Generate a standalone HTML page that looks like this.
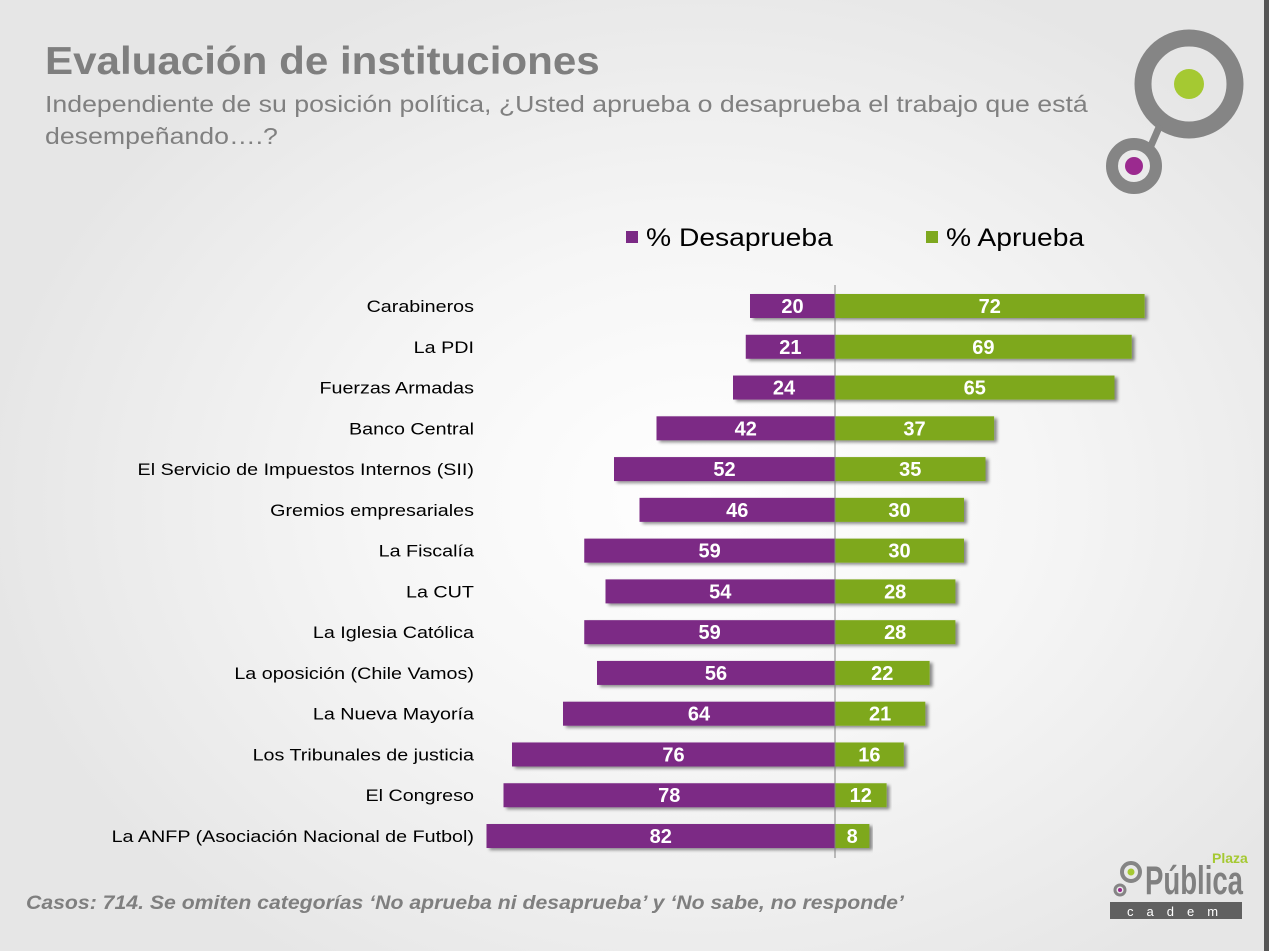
<!DOCTYPE html>
<html><head><meta charset="utf-8"><style>
body{margin:0;width:1269px;height:951px;overflow:hidden;font-family:"Liberation Sans",sans-serif;}
#bg{position:absolute;left:0;top:0;width:1269px;height:951px;background:radial-gradient(ellipse 720px 560px at 700px 500px,#ffffff 0%,#f6f6f6 45%,#e6e6e6 100%);}
.t{position:absolute;white-space:nowrap;transform-origin:0 0;}
</style></head><body>
<div id="bg"></div>
<div class="t" style="left:45px;top:40px;font-size:39px;font-weight:bold;color:#7f7f7f;transform:scaleX(1.08);">Evaluación de instituciones</div>
<div class="t" style="left:45px;top:88px;font-size:23px;color:#808080;line-height:32px;transform:scaleX(1.16);">Independiente de su posición política, ¿Usted aprueba o desaprueba el trabajo que está<br>desempeñando….?</div>
<div style="position:absolute;left:1264px;top:0;width:5px;height:951px;background:#555;"></div>
<svg style="position:absolute;left:0;top:0" width="1269" height="951">
<circle cx="1189" cy="84" r="46" fill="none" stroke="#858585" stroke-width="17"/>
<circle cx="1189" cy="84" r="15" fill="#a5c932"/>
<line x1="1160" y1="125" x2="1150" y2="148" stroke="#858585" stroke-width="7"/>
<circle cx="1134" cy="166" r="22" fill="none" stroke="#858585" stroke-width="12"/>
<circle cx="1134" cy="166" r="9" fill="#9b2a8f"/>
</svg>
<svg id="chart" style="position:absolute;left:0;top:0" width="1269" height="951">
<defs><filter id="sh" x="-5%" y="-20%" width="115%" height="160%"><feDropShadow dx="3" dy="2" stdDeviation="1.5" flood-color="#000" flood-opacity="0.45"/></filter></defs>
<rect x="626" y="231" width="12" height="12" fill="#7b2a85"/>
<text x="571.7" y="246" font-size="25" fill="#000" transform="scale(1.13,1)">% Desaprueba</text>
<rect x="926" y="231" width="12" height="12" fill="#7ea81f"/>
<text x="837.2" y="246" font-size="25" fill="#000" transform="scale(1.13,1)">% Aprueba</text>
<g id="bars"></g>
<line x1="835" y1="285" x2="835" y2="858" stroke="#808080" stroke-width="1"/>
</svg>
<div class="t" style="left:26px;top:893px;font-size:19px;font-weight:bold;font-style:italic;color:#7f7f7f;transform:scaleX(1.117);">Casos: 714. Se omiten categorías ‘No aprueba ni desaprueba’ y ‘No sabe, no responde’</div>
<svg style="position:absolute;left:1105px;top:850px" width="145" height="75">
<circle cx="26" cy="22" r="9" fill="none" stroke="#858585" stroke-width="4"/>
<circle cx="26" cy="22" r="3.5" fill="#a5c932"/>
<circle cx="15" cy="40" r="5" fill="none" stroke="#858585" stroke-width="3"/>
<circle cx="15" cy="40" r="2" fill="#9b2a8f"/>
<text x="40" y="44" font-size="40" font-weight="bold" fill="#808080" textLength="98" lengthAdjust="spacingAndGlyphs">Pública</text>
<text x="107" y="13" font-size="14" font-weight="bold" fill="#a5c932">Plaza</text>
<rect x="5" y="52" width="132" height="17" fill="#606060"/>
<text x="22" y="66" font-size="13" fill="#fff" letter-spacing="13">cadem</text>
</svg>
<script>
const categories=["Carabineros","La PDI","Fuerzas Armadas","Banco Central","El Servicio de Impuestos Internos (SII)","Gremios empresariales","La Fiscalía","La CUT","La Iglesia Católica","La oposición (Chile Vamos)","La Nueva Mayoría","Los Tribunales de justicia","El Congreso","La ANFP (Asociación Nacional de Futbol)"];
const desaprueba=[20,21,24,42,52,46,59,54,59,56,64,76,78,82];
const aprueba=[72,69,65,37,35,30,30,28,28,22,21,16,12,8];
const X0=835,KD=4.25,KA=4.3,Y0=306,STEP=40.77,H=24;
const xd=v=>v*KD, xa=v=>v*KA, yc=i=>Y0+i*STEP;
const g=document.getElementById('bars'),NS='http://www.w3.org/2000/svg';
function mk(tag,a){const e=document.createElementNS(NS,tag);for(const k in a)e.setAttribute(k,a[k]);g.appendChild(e);return e;}
categories.forEach((c,i)=>{
 const y=yc(i);
 const lab=mk('text',{x:(474/1.16).toFixed(1),y:y+6,'text-anchor':'end','font-size':17,fill:'#000',transform:'scale(1.16,1)'});lab.textContent=c;
 
 
 const w1=xd(desaprueba[i]);
 const r1=mk('rect',{x:X0-w1,y:y-H/2,width:w1,height:H,fill:'#7b2a85',filter:'url(#sh)'});
 
 
 const w2=xa(aprueba[i]);
 const r2=mk('rect',{x:X0,y:y-H/2,width:w2,height:H,fill:'#7ea81f',filter:'url(#sh)'});
 
 
 const t1=mk('text',{x:X0-w1/2,y:y+7,'text-anchor':'middle','font-size':20,'font-weight':'bold',fill:'#fff'});t1.textContent=desaprueba[i];
 
 
 const t2=mk('text',{x:X0+w2/2,y:y+7,'text-anchor':'middle','font-size':20,'font-weight':'bold',fill:'#fff'});t2.textContent=aprueba[i];
 
 
});
</script>
</body></html>
